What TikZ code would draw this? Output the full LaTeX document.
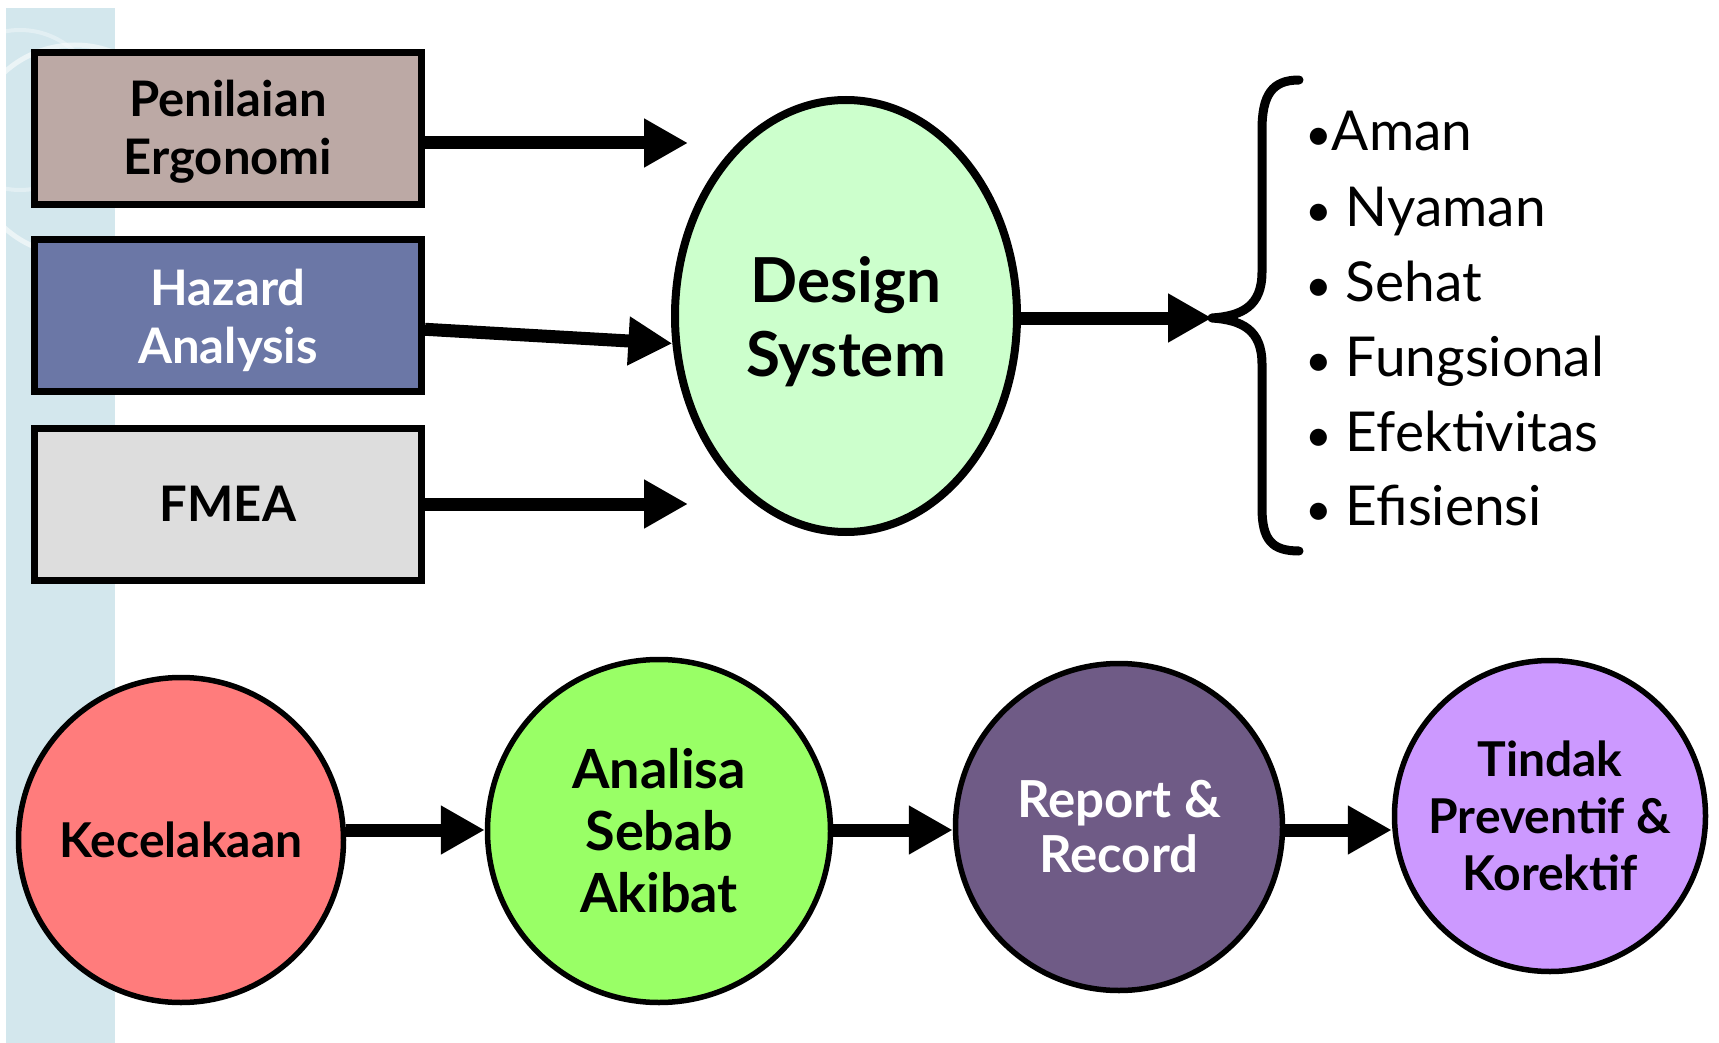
\documentclass[tikz,border=0pt]{standalone}
\usepackage{fontspec}
\setmainfont{Lato}
\usetikzlibrary{arrows.meta,shapes.geometric}

\definecolor{stripblue}{HTML}{D3E7ED}
\definecolor{boxrose}{HTML}{BCA9A5}
\definecolor{boxslate}{HTML}{6B77A6}
\definecolor{boxgrey}{HTML}{DDDDDD}
\definecolor{ellgreen}{HTML}{CCFFCC}
\definecolor{cred}{HTML}{FF7C7C}
\definecolor{cgreen}{HTML}{99FF66}
\definecolor{cpurple}{HTML}{6F5B86}
\definecolor{cviolet}{HTML}{CC99FF}

\newcommand{\smallbul}{{\fontsize{46}{46}\selectfont•}}
% two-line label with extra room on top, so it sits a little low in its shape
\newcommand{\twoline}[3]{\raisebox{0pt}[\dimexpr\height+#1\relax][\depth]{\begin{tabular}{@{}c@{}}#2\\#3\end{tabular}}}

\tikzset{
  inbox/.style={draw=black, line width=7pt, rectangle, inner sep=0pt,
    minimum width=387pt, minimum height=152pt, align=center,
    font=\fontsize{49}{58}\selectfont\bfseries},
  flowcircle/.style={draw=black, line width=5.5pt, circle, inner sep=0pt,
    align=center, font=\fontsize{48}{56}\selectfont\bfseries},
  conn/.style={line width=13pt, -{Triangle[length=44pt, width=46pt]}},
  bullet/.style={anchor=base west, inner sep=0pt,
    font=\fontsize{55}{66}\selectfont}
}

\begin{document}
\begin{tikzpicture}[x=1pt, y=-1pt]
\useasboundingbox (0,0) rectangle (1719,1043);
\fill[white] (0,0) rectangle (1719,1043);

% decorative side strip
\fill[stripblue] (6,8) rectangle (115,1043);
\begin{scope}
  \clip (6,8) rectangle (115,1043);
  \draw[white, opacity=0.55, line width=5pt] (75,150) circle (105);
  \draw[white, opacity=0.35, line width=4pt] (20,110) circle (80);
\end{scope}

% input boxes
\node[inbox, fill=boxrose] (pe) at (228,128.5) {\twoline{11pt}{Penilaian}{Ergonomi}};
\node[inbox, fill=boxslate, text=white] (ha) at (228,315.5) {\twoline{14pt}{Hazard}{Analysis}};
\node[inbox, fill=boxgrey] (fm) at (228,504) {FMEA};

% central ellipse
\node[draw=black, line width=8pt, ellipse, fill=ellgreen, inner sep=0pt,
  minimum width=342pt, minimum height=432pt,
  font=\fontsize{62}{74}\selectfont\bfseries] (ds) at (846,316)
  {\twoline{18pt}{Design}{System}};

\coordinate (inA) at (688,143);
\coordinate (inC) at (688,504);
\draw[conn] (pe.east |- inA) -- (inA);
\draw[conn] (ha.-4) -- (ds.189);
\draw[conn] (fm.east) -- (inC);

% brace with outcomes
\coordinate (bracetip) at (1212,318);
\draw[line width=9pt, line cap=round, line join=round]
  (1299,80) .. controls (1272,80) and (1262,95) .. (1262,130)
  -- (1262,272) .. controls (1262,306) and (1242,316) .. (bracetip)
  .. controls (1242,320) and (1262,330) .. (1262,364)
  -- (1262,508) .. controls (1262,540) and (1272,551) .. (1299,551);
\draw[conn] (ds.east |- bracetip) -- (bracetip);

\node[bullet] (o1) at (1305,151) {\smallbul Aman};
\node[bullet] (o2) at (1305,227) {\smallbul{} Nyaman};
\node[bullet] (o3) at (1305,301) {\smallbul{} Sehat};
\node[bullet] (o4) at (1305,376) {\smallbul{} Fungsional};
\node[bullet] (o5) at (1305,451) {\smallbul{} Efektivitas};
\node[bullet] (o6) at (1305,525) {\smallbul{} Efisiensi};

% accident handling flow
\node[flowcircle, fill=cred, minimum size=325pt] (ke) at (181,840) {Kecelakaan};
\node[flowcircle, fill=cgreen, minimum size=343pt,
  font=\fontsize{54}{62}\selectfont\bfseries] (an) at (659,831) {Analisa\\Sebab\\Akibat};
\node[flowcircle, fill=cpurple, text=white, minimum size=327pt,
  font=\fontsize{51}{55}\selectfont\bfseries] (rr) at (1119,827) {Report \&\\Record};
\node[flowcircle, fill=cviolet, minimum size=311pt,
  font=\fontsize{48}{57}\selectfont\bfseries] (tp) at (1550,816) {Tindak\\Preventif \&\\Korektif};

\draw[conn] (ke.east |- 0,830) -- (an.west |- 0,830);
\draw[conn] (an.east |- 0,830) -- (rr.west |- 0,830);
\draw[conn] (rr.east |- 0,830) -- (tp.west |- 0,830);
\end{tikzpicture}
\end{document}
